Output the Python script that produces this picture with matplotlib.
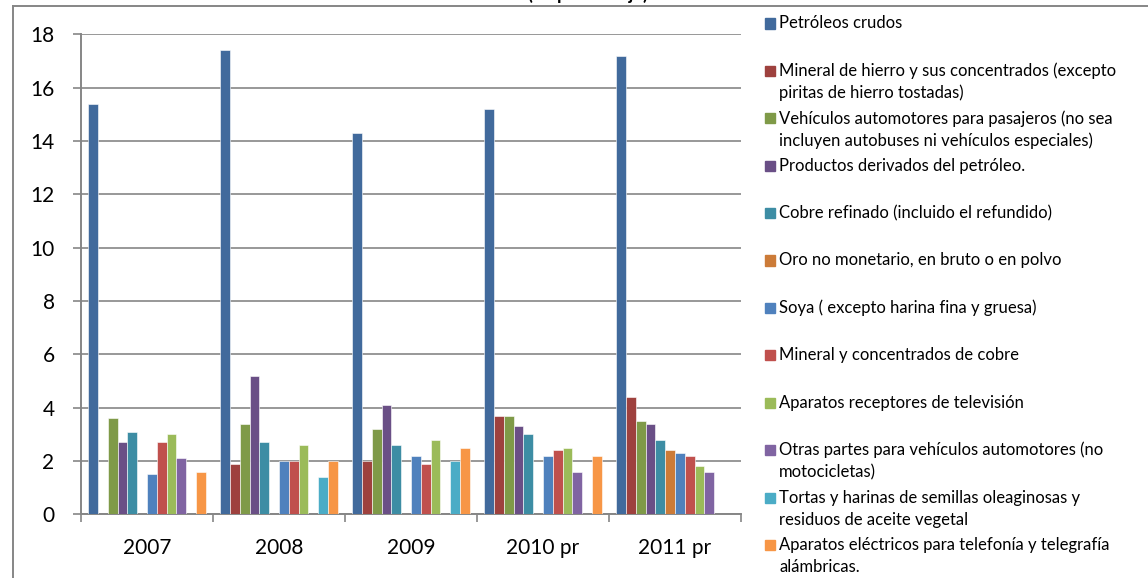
import numpy as np
import matplotlib
matplotlib.use('Agg')
from matplotlib import pyplot as plt
from matplotlib.patches import Rectangle
from matplotlib.lines import Line2D

plt.rcParams['font.family'] = ['Lato', 'DejaVu Sans']

categories = ['2007', '2008', '2009', '2010 pr', '2011 pr']

series_names = [
    'Petróleos crudos',
    'Mineral de hierro y sus concentrados (excepto\npiritas de hierro tostadas)',
    'Vehículos automotores para pasajeros (no sea\nincluyen autobuses ni vehículos especiales)',
    'Productos derivados del petróleo.',
    'Cobre refinado (incluido el refundido)',
    'Oro no monetario, en bruto o en polvo',
    'Soya ( excepto harina fina y gruesa)',
    'Mineral y concentrados de cobre',
    'Aparatos receptores de televisión',
    'Otras partes para vehículos automotores (no\nmotocicletas)',
    'Tortas y harinas de semillas oleaginosas y\nresiduos de aceite vegetal',
    'Aparatos eléctricos para telefonía y telegrafía\nalámbricas.',
]

nan = np.nan
petroleos = [15.4, 17.4, 14.3, 15.2, 17.2]
mineral_hierro = [nan, 1.9, 2.0, 3.7, 4.4]
vehiculos = [3.6, 3.4, 3.2, 3.7, 3.5]
derivados = [2.7, 5.2, 4.1, 3.3, 3.4]
cobre_refinado = [3.1, 2.7, 2.6, 3.0, 2.8]
oro = [nan, nan, nan, nan, 2.4]
soya = [1.5, 2.0, 2.2, 2.2, 2.3]
mineral_cobre = [2.7, 2.0, 1.9, 2.4, 2.2]
televisores = [3.0, 2.6, 2.8, 2.5, 1.8]
otras_partes = [2.1, nan, nan, 1.6, 1.6]
tortas = [nan, 1.4, 2.0, nan, nan]
telefonia = [1.6, 2.0, 2.5, 2.2, nan]

series_values = [petroleos, mineral_hierro, vehiculos, derivados, cobre_refinado, oro,
                 soya, mineral_cobre, televisores, otras_partes, tortas, telefonia]

colors = ['#416A9C', '#9E413E', '#7F9A48', '#6A4F86', '#3D8DA4', '#CC7B38',
          '#4F81BD', '#C0504D', '#9BBB59', '#8064A2', '#4BACC6', '#F79646']

W, H = 1148, 578
gray = '#868686'

fig = plt.figure(figsize=(W / 100, H / 100), dpi=100)
ax = fig.add_axes([81 / W, 1 - 514.3 / H, 660 / W, 480 / H])

x = np.arange(len(categories))
bar_w = 0.0742
n = len(series_values)
for i, (vals, col) in enumerate(zip(series_values, colors)):
    offs = (i - (n - 1) / 2) * bar_w
    ax.bar(x + offs, vals, bar_w, color=col, edgecolor='white', linewidth=0.4, zorder=3)

ax.set_xlim(-0.5, len(categories) - 0.5)
ax.set_ylim(0, 18)
ax.set_yticks(range(0, 19, 2))

ax.set_xticks(np.arange(-0.5, len(categories), 1))
ax.set_xticklabels([])
ax.set_xticks(x, minor=True)
ax.set_xticklabels(categories, minor=True)
ax.tick_params(axis='x', which='major', length=6, width=1.2, color=gray, direction='out')
ax.tick_params(axis='x', which='minor', length=0, pad=17, labelsize=15)
ax.tick_params(axis='y', length=6, width=1.2, color=gray, pad=13, labelsize=15)

ax.yaxis.grid(True, color=gray, linewidth=1.2)
ax.set_axisbelow(True)
for s in ['top', 'right']:
    ax.spines[s].set_visible(False)
for s in ['left', 'bottom']:
    ax.spines[s].set_color(gray)
    ax.spines[s].set_linewidth(1.4)

# chart frame (cropped)
fig.add_artist(Line2D([13 / W, 13 / W], [0, 1 - 5.5 / H], transform=fig.transFigure, color=gray, lw=1.4))
fig.add_artist(Line2D([13 / W, 1], [1 - 5.5 / H, 1 - 5.5 / H], transform=fig.transFigure, color=gray, lw=1.4))

# title, cut by the top edge
fig.text(588 / W, 1 + 0.5 / H, '(en porcentaje)', ha='center', va='baseline', fontsize=13, fontweight='bold')

# legend
for i, (name, col) in enumerate(zip(series_names, colors)):
    y0 = 23.5 + i * 47.4
    fig.add_artist(Rectangle((765 / W, 1 - (y0 + 5) / H), 10 / W, 10 / H,
                             transform=fig.transFigure, color=col))
    for k, line in enumerate(name.split('\n')):
        fig.text(779 / W, 1 - (y0 + 22 * k) / H, line, ha='left', va='center', fontsize=12)

fig.savefig('out.png', dpi=100)
